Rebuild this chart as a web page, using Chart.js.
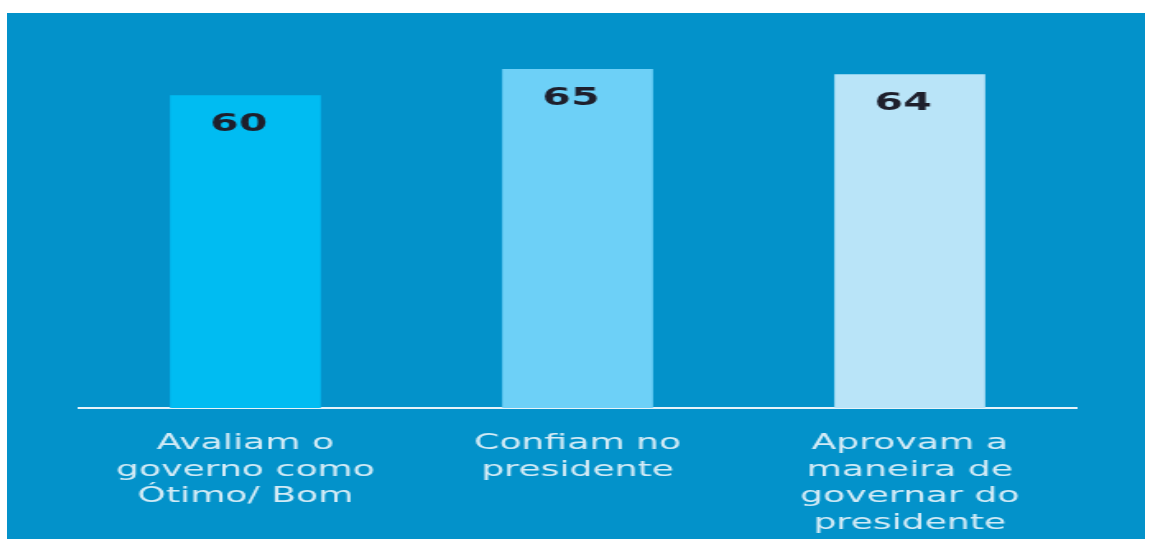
<!DOCTYPE html>
<html>
<head>
<meta charset="utf-8">
<script src="https://cdn.jsdelivr.net/npm/chart.js@4/dist/chart.umd.min.js"></script>
<style>
  html, body { margin: 0; padding: 0; background: #ffffff; width: 1152px; height: 539px; overflow: hidden; }
  #chart {
    position: absolute; left: 7px; top: 13px;
    width: 692px; height: 526px;
    background: #0392ca;
    transform: scaleX(1.6445); transform-origin: 0 0;
  }
</style>
</head>
<body>
<canvas id="chart" width="692" height="526"></canvas>
<script>
// Survey results (percent)
const categories = [
  ['Avaliam o', 'governo como', 'Ótimo/ Bom'],
  ['Confiam no', 'presidente'],
  ['Aprovam a', 'maneira de', 'governar do', 'presidente']
];
const values = [60, 65, 64];
const barColors = ['#00bcf2', '#6dd0f7', '#b9e4f8'];

// Value written inside the top of each bar
const valueLabels = {
  id: 'valueLabels',
  afterDatasetsDraw(chart) {
    const ctx = chart.ctx;
    const meta = chart.getDatasetMeta(0);
    ctx.save();
    ctx.font = 'bold 25px "DejaVu Sans"';
    ctx.fillStyle = '#1e1f2c';
    ctx.textAlign = 'center';
    ctx.textBaseline = 'middle';
    meta.data.forEach((bar, i) => {
      ctx.fillText(String(values[i]), bar.x - 4, bar.y + 29);
    });
    ctx.restore();
  }
};

new Chart(document.getElementById('chart'), {
  type: 'bar',
  data: {
    labels: categories,
    datasets: [{
      data: values,
      backgroundColor: barColors,
      borderWidth: 0,
      categoryPercentage: 1,
      barPercentage: 0.454
    }]
  },
  options: {
    responsive: false,
    animation: false,
    layout: { padding: { top: 30, left: 44, right: 42, bottom: 0 } },
    plugins: { legend: { display: false }, tooltip: { enabled: false } },
    scales: {
      y: { display: false, min: 0, max: 70 },
      x: {
        grid: { display: false, drawTicks: false, tickLength: 0 },
        border: { display: true, color: '#e6f3fa', width: 2 },
        ticks: {
          autoSkip: false, maxRotation: 0, minRotation: 0,
          padding: 22,
          color: '#d3ebf6',
          font: { family: '"DejaVu Sans"', size: 22, lineHeight: 1.21 }
        },
        afterFit(scale) { scale.height = 131; }
      }
    }
  },
  plugins: [valueLabels]
});
</script>
</body>
</html>
